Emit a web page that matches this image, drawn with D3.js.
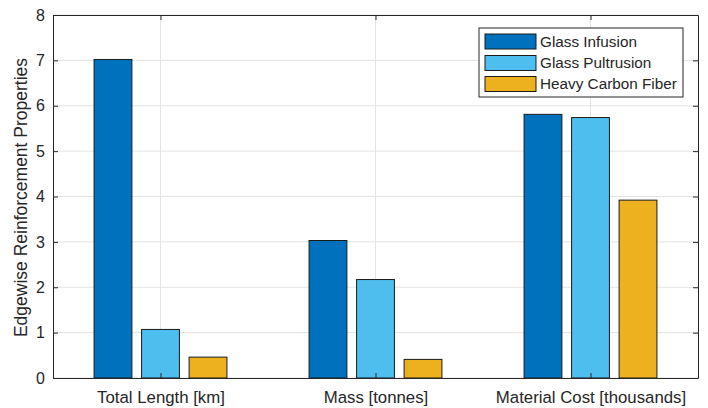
<!DOCTYPE html>
<html>
<head>
<meta charset="utf-8">
<script src="https://cdn.jsdelivr.net/npm/d3@7"></script>
<style>
  html, body { margin: 0; padding: 0; background: #fff; }
  svg { display: block; }
  text { font-family: "Liberation Sans", Arial, sans-serif; }
</style>
</head>
<body>
<script>
// Edgewise reinforcement comparison data
const categories = ["Total Length [km]", "Mass [tonnes]", "Material Cost [thousands]"];
const seriesNames = ["Glass Infusion", "Glass Pultrusion", "Heavy Carbon Fiber"];
const glassInfusion = [7.02, 3.03, 5.81];
const glassPultrusion = [1.07, 2.17, 5.74];
const heavyCarbonFiber = [0.46, 0.41, 3.92];
const yTicks = [0, 1, 2, 3, 4, 5, 6, 7, 8];
const yLabel = "Edgewise Reinforcement Properties";

const seriesValues = [glassInfusion, glassPultrusion, heavyCarbonFiber];
const colors = ["#0072BD", "#4DBEEE", "#EDB120"];

const W = 708, H = 408;
const margin = { left: 53, right: 10, top: 15, bottom: 30 };
const plotW = W - margin.left - margin.right;
const plotH = H - margin.top - margin.bottom;

const svg = d3.select("body").append("svg").attr("width", W).attr("height", H);
const g = svg.append("g").attr("transform", `translate(${margin.left},${margin.top})`);

// Category positions 1..3 with half-unit padding on each side
const x = d3.scaleLinear().domain([0.5, categories.length + 0.5]).range([0, plotW]);
const y = d3.scaleLinear().domain([0, 8]).range([plotH, 0]);

const catPos = categories.map((c, i) => i + 1);

// Grid lines
g.append("g").selectAll("line.hg").data(yTicks).join("line")
  .attr("x1", 0).attr("x2", plotW)
  .attr("y1", d => y(d)).attr("y2", d => y(d))
  .attr("stroke", "#e3e3e3").attr("stroke-width", 1);
g.append("g").selectAll("line.vg").data(catPos).join("line")
  .attr("x1", d => x(d)).attr("x2", d => x(d))
  .attr("y1", 0).attr("y2", plotH)
  .attr("stroke", "#e3e3e3").attr("stroke-width", 1);

// Bars: grouped, each bar offset within its category
const barStep = 0.221;   // offset between bars in category units
const barWidth = 0.176;  // bar width in category units
const barData = [];
seriesValues.forEach((vals, s) => {
  vals.forEach((v, i) => {
    barData.push({ s, cat: i + 1, v });
  });
});
g.append("g").selectAll("rect").data(barData).join("rect")
  .attr("x", d => x(d.cat + (d.s - 1) * barStep - barWidth / 2))
  .attr("width", d => x(barWidth) - x(0))
  .attr("y", d => y(d.v))
  .attr("height", d => y(0) - y(d.v))
  .attr("fill", d => colors[d.s])
  .attr("stroke", "#1a1a1a").attr("stroke-width", 1);

// Axes (box with inward ticks on all sides)
const axisColor = "#262626";
const tickLen = 5;
const axisLeft = d3.axisLeft(y).tickValues(yTicks).tickSizeInner(-tickLen).tickSizeOuter(0).tickPadding(8);
const gy = g.append("g").call(axisLeft);
gy.select(".domain").attr("stroke", axisColor);
gy.selectAll(".tick line").attr("stroke", axisColor);
gy.selectAll(".tick text").attr("fill", axisColor).style("font-size", "16px");

const axisRight = d3.axisRight(y).tickValues(yTicks).tickSizeInner(-tickLen).tickSizeOuter(0).tickFormat("");
const gyr = g.append("g").attr("transform", `translate(${plotW},0)`).call(axisRight);
gyr.select(".domain").attr("stroke", axisColor);
gyr.selectAll(".tick line").attr("stroke", axisColor);

const axisBottom = d3.axisBottom(x).tickValues(catPos).tickSizeInner(-tickLen).tickSizeOuter(0)
  .tickPadding(13).tickFormat((d, i) => categories[i]);
const gx = g.append("g").attr("transform", `translate(0,${plotH})`).call(axisBottom);
gx.select(".domain").attr("stroke", axisColor);
gx.selectAll(".tick line").attr("stroke", axisColor);
gx.selectAll(".tick text").attr("fill", axisColor).style("font-size", "16.8px");

const axisTop = d3.axisTop(x).tickValues(catPos).tickSizeInner(-tickLen).tickSizeOuter(0).tickFormat("");
const gxt = g.append("g").call(axisTop);
gxt.select(".domain").attr("stroke", axisColor);
gxt.selectAll(".tick line").attr("stroke", axisColor);

// Y axis label
svg.append("text")
  .attr("transform", `translate(27,${margin.top + plotH / 2 + 1}) rotate(-90)`)
  .attr("text-anchor", "middle")
  .attr("fill", axisColor)
  .style("font-size", "17.5px")
  .text(yLabel);

// Legend
const legend = svg.append("g").attr("transform", "translate(479,28)");
legend.append("rect")
  .attr("x", 0).attr("y", 0).attr("width", 204).attr("height", 69)
  .attr("fill", "#fff").attr("stroke", axisColor).attr("stroke-width", 1);
const rowY = [13.5, 35, 56];
seriesNames.forEach((name, i) => {
  legend.append("rect")
    .attr("x", 6).attr("y", rowY[i] - 7.5).attr("width", 51).attr("height", 15)
    .attr("fill", colors[i]).attr("stroke", "#1a1a1a").attr("stroke-width", 1);
  legend.append("text")
    .attr("x", 61).attr("y", rowY[i]).attr("dy", "0.35em")
    .attr("fill", axisColor).style("font-size", "15.3px")
    .text(name);
});
</script>
</body>
</html>
